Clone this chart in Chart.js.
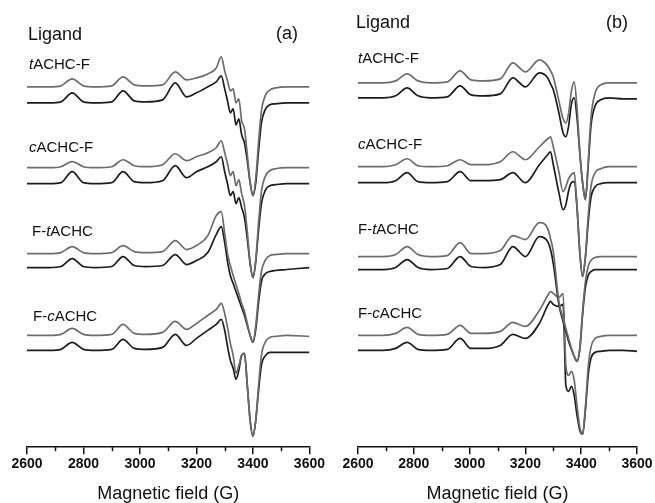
<!DOCTYPE html>
<html>
<head>
<meta charset="utf-8">
<script src="https://cdn.jsdelivr.net/npm/chart.js@4.4.0/dist/chart.umd.min.js"></script>
<style>
  body { margin: 0; background: #fff; }
  #wrap { position: relative; width: 655px; height: 503px; overflow: hidden; }
  canvas { position: absolute; top: 0; }
  .lbl { position: absolute; font-family: "Liberation Sans", Arial, sans-serif; color: #111; line-height: 1; white-space: nowrap; }
  .big { font-size: 18px; }
  .sm { font-size: 15px; }
</style>
</head>
<body>
<div id="wrap">
  <canvas id="panelA" width="327" height="503" style="left:0"></canvas>
  <canvas id="panelB" width="328" height="503" style="left:327px"></canvas>

  <div class="lbl big" style="left:28px;top:25px">Ligand</div>
  <div class="lbl big" style="left:276px;top:24px">(a)</div>
  <div class="lbl sm" style="left:29px;top:56px"><i>t</i>ACHC-F</div>
  <div class="lbl sm" style="left:29px;top:139px"><i>c</i>ACHC-F</div>
  <div class="lbl sm" style="left:32px;top:223px">F-<i>t</i>ACHC</div>
  <div class="lbl sm" style="left:33px;top:308px">F-<i>c</i>ACHC</div>

  <div class="lbl big" style="left:356px;top:13px">Ligand</div>
  <div class="lbl big" style="left:606px;top:13px">(b)</div>
  <div class="lbl sm" style="left:358px;top:50px"><i>t</i>ACHC-F</div>
  <div class="lbl sm" style="left:358px;top:136px"><i>c</i>ACHC-F</div>
  <div class="lbl sm" style="left:358px;top:221px">F-<i>t</i>ACHC</div>
  <div class="lbl sm" style="left:358px;top:305px">F-<i>c</i>ACHC</div>
</div>
<script>
// field axis (G) for each panel
const fieldA = [2600, 2680, 2720, 2760, 2800, 2840, 2900, 2940, 2980, 3020, 3080, 3125, 3165, 3200, 3240,
  3270, 3288, 3300, 3310, 3320, 3330, 3340, 3350, 3360, 3370, 3380, 3390, 3400, 3410, 3420,
  3430, 3445, 3460, 3480, 3520, 3600];
const fieldB = [2600, 2690, 2735, 2776, 2815, 2860, 2920, 2966, 3005, 3050, 3110, 3155, 3200, 3250, 3280,
  3290, 3300, 3320, 3335, 3345, 3355, 3365, 3375, 3385, 3395, 3405, 3415, 3425, 3435, 3450,
  3470, 3500, 3550, 3600];

// panel (a) spectra, two per ligand (grey / black)
const aTF1 = [0,0,1,8,1, 0,1,10,2,1, 2,15,7,9,13, 19,30,16,6,-4, -2,-16,-12,-34,-42, -68,-95,-109,-92,-55, -24,-8,-3,-1,0, 0];
const aTF2 = [0,0,1,10,1, 0,1,12,2,1, 3,20,6,10,16, 21,27,14,2,-10, -6,-22,-16,-32,-40, -58,-80,-93,-80,-48, -20,-6,-2,-1,0, 0];
const aCF1 = [0,0,1,6,1, 0,1,8,2,1, 3,14,7,11,15, 20,27,15,4,-8, -4,-18,-12,-26,-38, -64,-95,-110,-92,-55, -24,-8,-3,-1,0, 0];
const aCF2 = [0,0,1,12,1, 0,1,12,2,1, 3,18,6,12,17, 22,27,12,0,-12, -8,-20,-14,-24,-34, -55,-80,-94,-78,-46, -20,-6,-2,-1,0, 0];
const aFT1 = [0,0,1,7,1, 0,1,8,2,1, 2,13,4,8,18, 38,42,20,0,-12, -22,-31,-40,-50,-58, -70,-82,-89,-72,-42, -18,-6,-2,-1,0, 0];
const aFT2 = [0,0,1,9,1, 0,1,11,2,1, 2,13,3,7,15, 33,41,25,6,-8, -16,-24,-32,-40,-48, -58,-68,-75,-62,-35, -14,-6,-4,-3,-2, 0];
const aFC1 = [0,0,1,7,1, 0,1,11,2,1, 3,14,6,12,20, 26,32,22,8,-8, -20,-38,-30,-20,-18, -50,-85,-101,-85,-50, -20,-6,-2,-1,0, -1];
const aFC2 = [0,0,1,8,1, 0,1,11,2,1, 3,16,5,12,20, 26,31,20,4,-10, -18,-29,-20,-5,-3, -35,-70,-86,-70,-40, -15,-5,-2,-2,-2, -2];

// panel (b) spectra
const bTF1 = [0,0,2,9,2, 0,1,12,3,2, 4,20,11,23,17, 12,6,-18,-36,-40, -30,-8,1,-25,-70, -100,-117,-80,-35,-10, -2,0,0,0];
const bTF2 = [0,0,2,10,2, 0,1,12,3,2, 4,20,11,25,20, 14,8,-15,-35,-39, -28,-6,0,-20,-55, -85,-102,-68,-28,-8, -2,0,-1,-1];
const bCF1 = [0,0,2,8,1, 0,1,7,2,2, 5,15,7,20,28, 30,20,-5,-25,-20, -12,-8,-6,-40,-85, -110,-90,-50,-20,-6, -2,0,0,0];
const bCF2 = [0,0,2,10,1, 0,1,11,2,2, 3,10,0,18,28, 31,18,-10,-27,-22, -8,0,1,-25,-70, -94,-75,-40,-15,-4, -1,0,0,0];
const bFT1 = [0,0,2,10,2, 0,1,14,3,3, 6,21,17,34,28, 18,5,-45,-62,-72, -82,-92,-100,-105,-92, -55,-25,-10,-4,-1, 0,0,0,0];
const bFT2 = [0,0,2,10,2, 0,1,13,3,2, 5,23,13,33,28, 20,6,-35,-52,-62, -72,-80,-87,-92,-80, -45,-18,-6,-2,0, 0,0,0,0];
const bFC1 = [0,0,2,8,1, 0,1,10,2,2, 4,13,9,25,40, 44,42,38,42,-30, -40,-36,-45,-70,-92, -99,-72,-32,-12,-3, -1,0,0,0];
const bFC2 = [0,0,2,8,1, 0,1,12,2,2, 5,16,12,27,45, 49,46,44,46,-35, -41,-36,-45,-65,-80, -84,-60,-25,-8,-2, -1,0,0,-1];

// vertical stacking offsets, top pair first
const offsetsA = [358, 342, 277, 261, 191, 177, 109, 94];
const offsetsB = [362, 347, 278, 262, 188, 175, 109, 94];

const lineColors = ['#6c6c6c', '#1c1c1c'];

function makeSets(field, spectra, offsets) {
  return spectra.map(function (s, k) {
    return {
      data: s.map(function (v, i) { return { x: field[i], y: v + offsets[k] }; }),
      borderColor: lineColors[k % 2],
      borderWidth: 1.7,
      pointRadius: 0,
      fill: false,
      cubicInterpolationMode: 'monotone'
    };
  });
}

// short minor ticks every 100 G between the labelled ones
const minorTicks = {
  id: 'minorTicks',
  afterDraw(chart) {
    const sx = chart.scales.x;
    const ctx = chart.ctx;
    ctx.save();
    ctx.strokeStyle = '#111';
    ctx.lineWidth = 1.5;
    for (let g = 2700; g < 3600; g += 200) {
      const px = Math.round(sx.getPixelForValue(g)) + 0.5;
      ctx.beginPath();
      ctx.moveTo(px, sx.top);
      ctx.lineTo(px, sx.top + 4);
      ctx.stroke();
    }
    ctx.restore();
  }
};

function drawPanel(id, field, spectra, offsets, padL, padR) {
  new Chart(document.getElementById(id), {
    type: 'line',
    data: { datasets: makeSets(field, spectra, offsets) },
    options: {
      responsive: false,
      animation: false,
      devicePixelRatio: 1,
      layout: { padding: { left: padL, right: padR, top: 10, bottom: 0 } },
      plugins: { legend: { display: false }, tooltip: { enabled: false } },
      scales: {
        x: {
          type: 'linear',
          min: 2600,
          max: 3600,
          ticks: {
            stepSize: 200,
            maxRotation: 0,
            padding: 2,
            color: '#111',
            font: { family: 'Liberation Sans', size: 14, weight: 'bold' },
            callback: function (v) { return String(v); }
          },
          grid: { drawOnChartArea: false, tickLength: 7, color: '#111', lineWidth: 1.5 },
          border: { display: true, color: '#111', width: 1.5 },
          title: {
            display: true,
            text: 'Magnetic field (G)',
            color: '#111',
            font: { family: 'Liberation Sans', size: 18, lineHeight: 1 },
            padding: { top: 10, bottom: 0 }
          }
        },
        y: { display: false, min: -3, max: 435 }
      }
    },
    plugins: [minorTicks]
  });
}

drawPanel('panelA', fieldA, [aTF1, aTF2, aCF1, aCF2, aFT1, aFT2, aFC1, aFC2], offsetsA, 27, 17);
drawPanel('panelB', fieldB, [bTF1, bTF2, bCF1, bCF2, bFT1, bFT2, bFC1, bFC2], offsetsB, 31, 18);
</script>
</body>
</html>
